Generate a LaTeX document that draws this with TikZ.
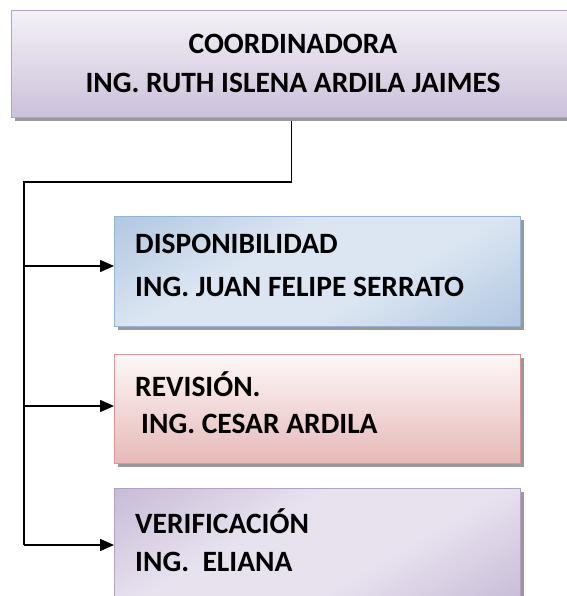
\documentclass[tikz,border=0pt]{standalone}
\usepackage{fontspec}
\setmainfont{Carlito}
\usetikzlibrary{shadows,arrows.meta}
\definecolor{topA}{HTML}{F4F1F7}
\definecolor{topB}{HTML}{CCC0DA}
\definecolor{topD}{HTML}{B3A2C7}
\definecolor{bluA}{HTML}{DCE6F2}
\definecolor{bluB}{HTML}{95B3D7}
\definecolor{redA}{HTML}{FDF7F7}
\definecolor{redB}{HTML}{E6B9B8}
\definecolor{redD}{HTML}{D99694}
\definecolor{purA}{HTML}{E8E2EF}
\definecolor{purB}{HTML}{B3A2C7}
\pgfdeclarehorizontalshading{bluesh}{100bp}{color(0bp)=(bluB); color(40bp)=(bluA); color(60bp)=(bluA); color(100bp)=(bluB)}
\pgfdeclarehorizontalshading{purpsh}{100bp}{color(0bp)=(purB); color(40bp)=(purA); color(60bp)=(purA); color(100bp)=(purB)}
\tikzset{
  x=1pt, y=-1pt,
  boxbase/.style={draw, line width=1.2pt, inner sep=0pt, anchor=north west},
  txt/.style={font=\fontsize{29.5}{34}\selectfont\bfseries, inner sep=0pt},
  conn/.style={line width=1.5pt, black},
  arr/.style={conn, -{Triangle[length=14pt,width=12pt]}},
}
\begin{document}
\begin{tikzpicture}
\useasboundingbox (0,0) rectangle (566,596);
% top box
\node[boxbase, draw=topD, top color=topA, bottom color=topB,
      drop shadow={shadow xshift=3pt, shadow yshift=-3pt, fill=black!40, opacity=1},
      minimum width=570pt, minimum height=107pt] (top) at (11,10) {};
\node[txt] (t1) at (293,44) {COORDINADORA};
\node[txt] (t2) at (293,83) {ING. RUTH ISLENA ARDILA JAIMES};
% blue box
\node[boxbase, draw=bluB, shading=bluesh, shading angle=120,
      drop shadow={shadow xshift=3pt, shadow yshift=-3pt, fill=black!40, opacity=1},
      minimum width=406pt, minimum height=110pt] (blue) at (114,216) {};
\node[txt, anchor=west] (b1) at (135,244) {DISPONIBILIDAD};
\node[txt, anchor=west] (b2) at (135,287) {ING. JUAN FELIPE SERRATO};
% red box
\node[boxbase, draw=redD, top color=redA, bottom color=redB,
      drop shadow={shadow xshift=3pt, shadow yshift=-3pt, fill=black!40, opacity=1},
      minimum width=406pt, minimum height=109pt] (red) at (114,354) {};
\node[txt, anchor=west] (r1) at (135,384) {REVISIÓN.};
\node[txt, anchor=west] (r2) at (141,424) {ING. CESAR ARDILA};
% purple box
\node[boxbase, draw=purB, shading=purpsh, shading angle=120,
      drop shadow={shadow xshift=3pt, shadow yshift=-3pt, fill=black!40, opacity=1},
      minimum width=406pt, minimum height=115pt] (purp) at (114,488) {};
\node[txt, anchor=west] (p1) at (135,521) {VERIFICACIÓN};
\node[txt, anchor=west] (p2) at (135,562) {ING.\ \ ELIANA};
% connectors
\coordinate (bend) at (24,182);
\coordinate (s1) at (24,266);
\coordinate (s2) at (24,406);
\coordinate (s3) at (24,545);
\draw[conn] ([xshift=-5pt,yshift=-3pt]top.south) |- (bend) -- (s3);
\draw[arr] (s1) -- (s1 -| blue.west);
\draw[arr] (s2) -- (s2 -| red.west);
\draw[arr] (s3) -- (s3 -| purp.west);
\end{tikzpicture}
\end{document}
